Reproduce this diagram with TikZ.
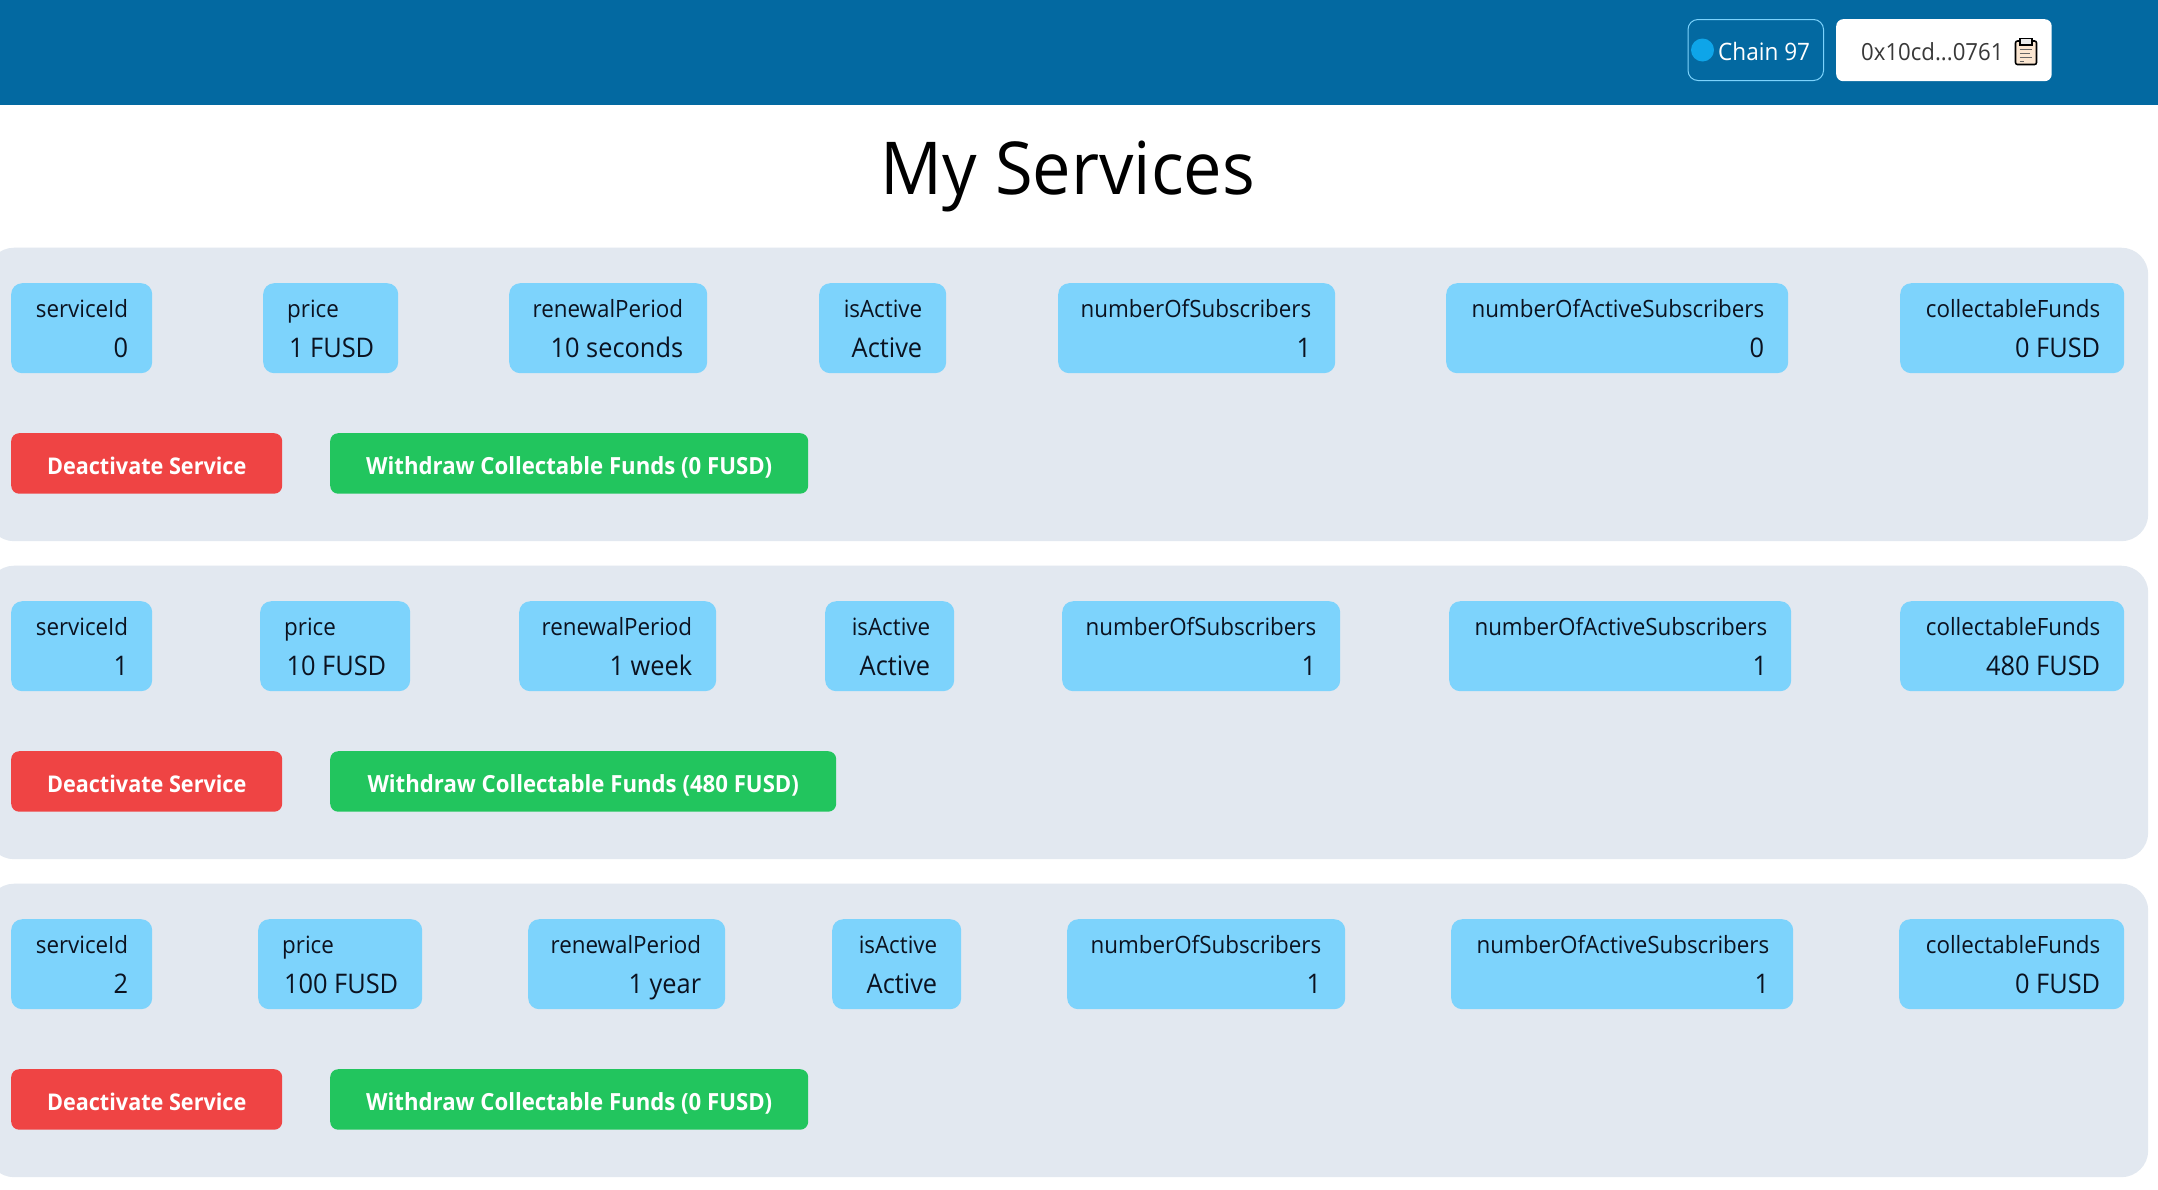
\documentclass[tikz,border=0pt]{standalone}
\usepackage{fontspec}
\setmainfont{Open Sans}[FakeStretch=0.94]
\definecolor{cHeader}{HTML}{0369A1}
\definecolor{cPanel}{HTML}{E2E8F0}
\definecolor{cStat}{HTML}{7DD3FC}
\definecolor{cRed}{HTML}{EF4444}
\definecolor{cGreen}{HTML}{22C55E}
\definecolor{cDot}{HTML}{0EA5E9}
\definecolor{cInk}{HTML}{0B1220}
\tikzset{
  panelbox/.style={fill=cPanel,rounded corners=27pt,anchor=north west,minimum height=293.5pt,minimum width=2161pt,inner sep=0pt},
  statbox/.style={fill=cStat,rounded corners=11pt,anchor=north west,minimum height=90pt,inner sep=0pt},
  statlabel/.style={inner sep=0pt,text=cInk,font=\fontsize{23.8}{28}\selectfont},
  statvalue/.style={inner sep=0pt,text=cInk,font=\fontsize{27}{32}\selectfont},
  actionbtn/.style={rounded corners=8pt,anchor=north west,minimum height=60.5pt,inner sep=0pt,text height=26.5pt,text depth=5pt,text=white},
}
\begin{document}
\begin{tikzpicture}[x=1pt,y=-1pt]

\clip (0,0) rectangle (2158,1189);
\fill[white] (0,0) rectangle (2158,1189);
\fill[cHeader] (0,0) rectangle (2158,105);

% header
\node[draw=cStat,line width=1pt,rounded corners=10pt,anchor=north west,minimum width=135.5pt,minimum height=61pt,inner sep=0pt] (chainBox) at (1687.5,19) {};
\node[circle,fill=cDot,minimum size=23pt,inner sep=0pt] (chainDot) at (1702.5,50) {};
\node[anchor=base west,inner sep=0pt,text=white,font=\fontsize{24}{28}\selectfont] (chainText) at (1718,60) {Chain 97};
\node[fill=white,rounded corners=7pt,anchor=north west,minimum width=215.5pt,minimum height=62pt,inner sep=0pt] (addrBox) at (1836,19) {};
\node[anchor=base west,inner sep=0pt,text=black!78,font=\fontsize{23.6}{28}\selectfont] (addrText) at (1861,60) {0x10cd...0761};
\draw[line width=1.6pt,fill=black!8!orange!18,rounded corners=2pt] (2015.5,41) rectangle (2036.5,64.5);
\fill[black!8] (2020,38) rectangle (2032,45);
\draw[line width=1.2pt] (2020,38.5) rectangle (2032,45);
\foreach \u/\t in {49/2032,53/2030,57/2032,61/2024}
{
    \draw[black!60,line width=0.9pt] (2019.5,\u) -- (\t,\u);
};

\node[anchor=base,inner sep=0pt,font=\fontsize{73}{84}\selectfont] (pageTitle) at (1068,194) {My Services};

% one panel for each service
\foreach \r/\y/\g/\m in {0/247.5/808/0,1/565.5/836/480,2/883.5/808/0}
{
    \node[panelbox] (panel\r) at (-13,\y) {};
    \node[actionbtn,fill=cRed,minimum width=271pt,font=\fontsize{23}{28}\selectfont\bfseries] (stopBtn\r) at (11,\y+185.5) {Deactivate Service};
    \node[actionbtn,fill=cGreen,minimum width={(\g-330)*1pt},font=\fontsize{23.6}{28}\selectfont\bfseries] (fundBtn\r) at (330,\y+185.5) {Withdraw Collectable Funds (\m{} FUSD)};
};

% stat boxes: row/name/left/right/label/value/side
\foreach \r/\y/\v/\a/\b/\t/\w/\s in
{   0/247.5/a/11/152/serviceId/0/e,
    0/247.5/b/263/398/price/1 FUSD/w,
    0/247.5/c/509/707/renewalPeriod/10 seconds/e,
    0/247.5/d/819/946/isActive/Active/e,
    0/247.5/e/1058/1335/numberOfSubscribers/1/e,
    0/247.5/f/1446/1788/numberOfActiveSubscribers/0/e,
    0/247.5/g/1900/2124/collectableFunds/0 FUSD/e,
    1/565.5/a/11/152/serviceId/1/e,
    1/565.5/b/260/410/price/10 FUSD/w,
    1/565.5/c/519/716/renewalPeriod/1 week/e,
    1/565.5/d/825/954/isActive/Active/e,
    1/565.5/e/1062/1340/numberOfSubscribers/1/e,
    1/565.5/f/1449/1791/numberOfActiveSubscribers/1/e,
    1/565.5/g/1900/2124/collectableFunds/480 FUSD/e,
    2/883.5/a/11/152/serviceId/2/e,
    2/883.5/b/258/422/price/100 FUSD/w,
    2/883.5/c/528/725/renewalPeriod/1 year/e,
    2/883.5/d/832/961/isActive/Active/e,
    2/883.5/e/1067/1345/numberOfSubscribers/1/e,
    2/883.5/f/1451/1793/numberOfActiveSubscribers/1/e,
    2/883.5/g/1899/2124/collectableFunds/0 FUSD/e
}
{
    \node[statbox,minimum width={(\b-\a)*1pt}] (box\r\v) at (\a,\y+35.5) {};
    \if\s w
        \node[statlabel,anchor=base west] (lab\r\v) at ([xshift=24pt,yshift=-34.5pt]box\r\v.north west) {\t};
    \else
        \node[statlabel,anchor=base east] (lab\r\v) at ([xshift=-24pt,yshift=-34.5pt]box\r\v.north east) {\t};
    \fi
    \node[statvalue,anchor=base east] (val\r\v) at ([xshift=-24pt,yshift=-74.5pt]box\r\v.north east) {\w};
};

\end{tikzpicture}
\end{document}
